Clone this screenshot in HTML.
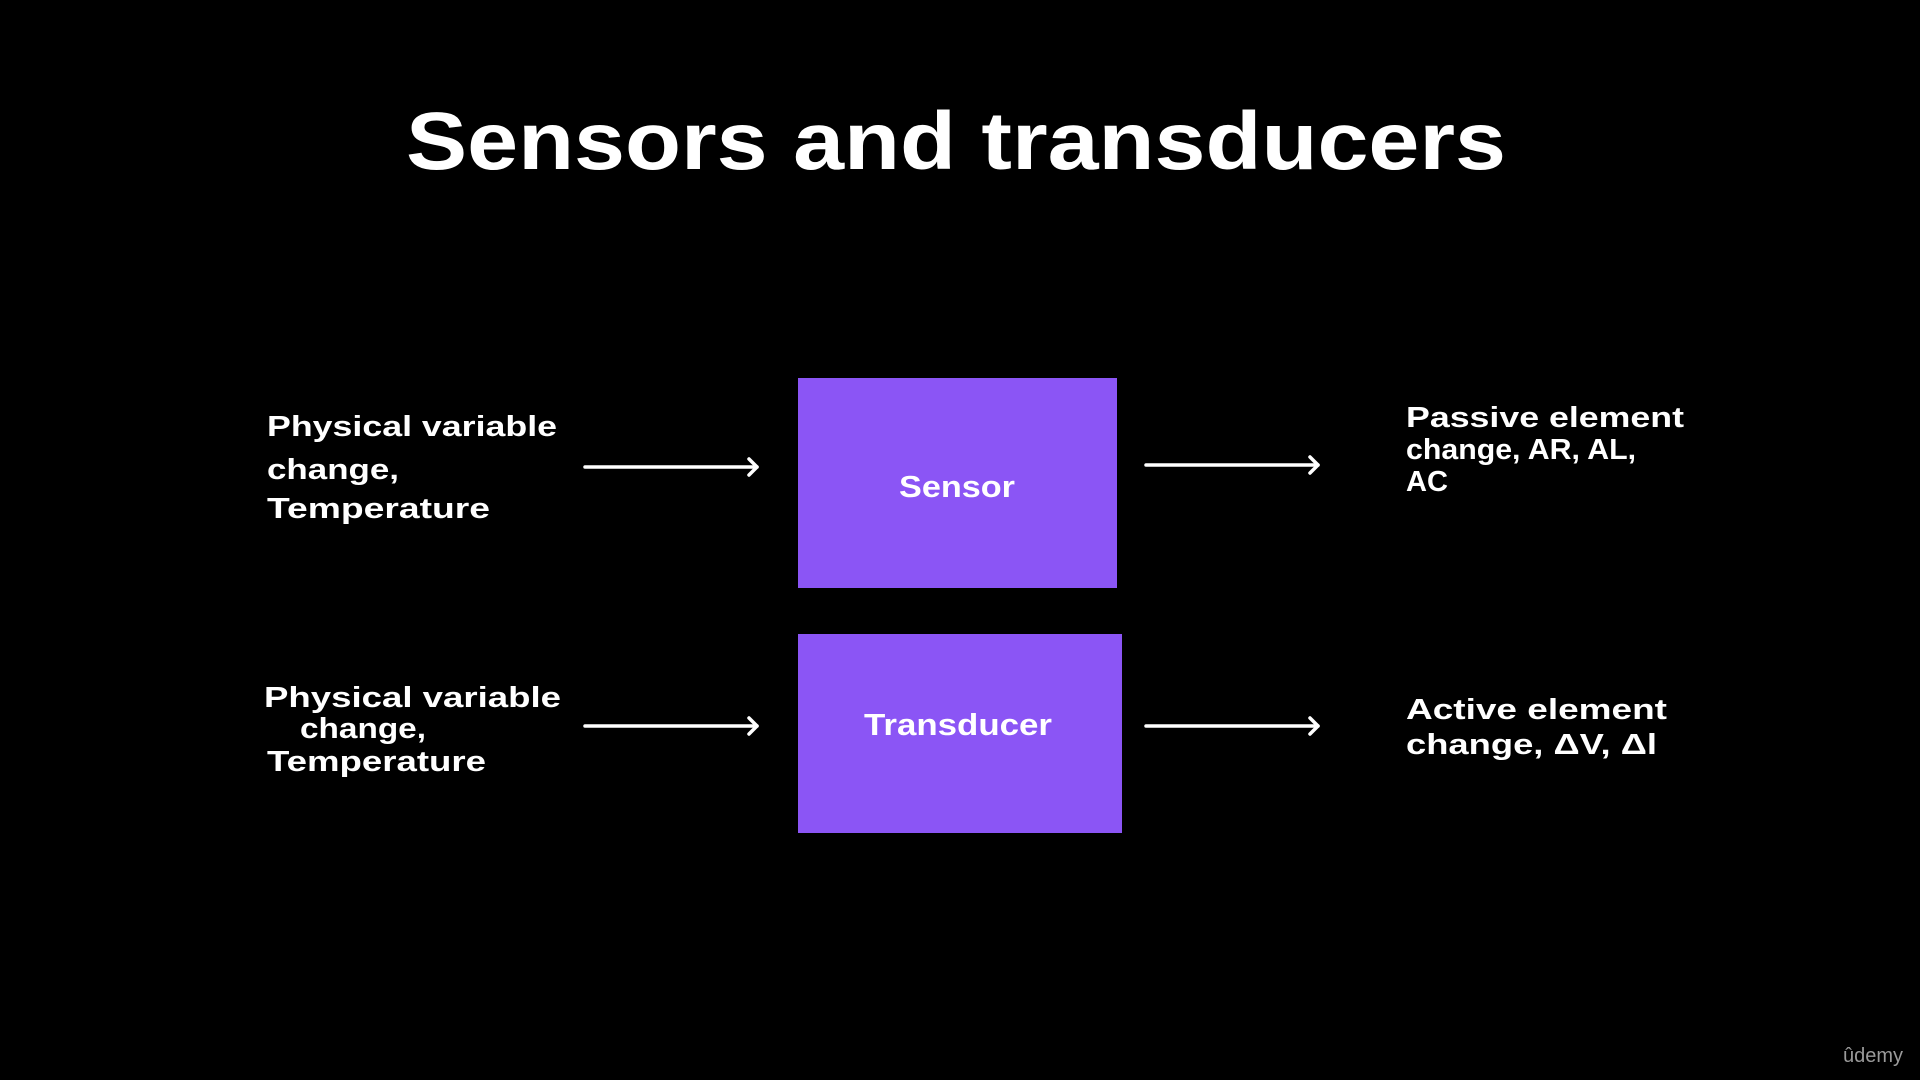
<!DOCTYPE html>
<html><head><meta charset="utf-8"><style>
html,body{margin:0;padding:0;background:#000;}
svg{display:block}
text{font-family:"Liberation Sans",sans-serif;font-weight:bold;fill:#fff}
</style></head><body>
<svg width="1920" height="1080" viewBox="0 0 1920 1080" xmlns="http://www.w3.org/2000/svg">
<rect width="1920" height="1080" fill="#000"/>
<text x="406" y="169" font-size="82" textLength="1100" lengthAdjust="spacingAndGlyphs">Sensors and transducers</text>

<rect x="798" y="378" width="319" height="210" fill="#8b55f5"/>
<rect x="798" y="634" width="324" height="199" fill="#8b55f5"/>
<text x="899" y="497" font-size="31" textLength="116" lengthAdjust="spacingAndGlyphs">Sensor</text>
<text x="864" y="735" font-size="31" textLength="188" lengthAdjust="spacingAndGlyphs">Transducer</text>

<g font-size="29">
<text x="267" y="436" textLength="290" lengthAdjust="spacingAndGlyphs">Physical variable</text>
<text x="267" y="479" textLength="132" lengthAdjust="spacingAndGlyphs">change,</text>
<text x="267" y="518" textLength="223" lengthAdjust="spacingAndGlyphs">Temperature</text>
<text x="264" y="707" textLength="297" lengthAdjust="spacingAndGlyphs">Physical variable</text>
<text x="300" y="738" textLength="126" lengthAdjust="spacingAndGlyphs">change,</text>
<text x="267" y="771" textLength="219" lengthAdjust="spacingAndGlyphs">Temperature</text>
<text x="1406" y="427" textLength="278" lengthAdjust="spacingAndGlyphs">Passive element</text>
<text x="1406" y="459" textLength="230" lengthAdjust="spacingAndGlyphs">change, AR, AL,</text>
<text x="1406" y="491" textLength="42" lengthAdjust="spacingAndGlyphs">AC</text>
<text x="1406" y="719" textLength="261" lengthAdjust="spacingAndGlyphs">Active element</text>
<text x="1406" y="754" textLength="251" lengthAdjust="spacingAndGlyphs">change,  ΔV,  Δl</text>
</g>

<g stroke="#fff" stroke-width="3.5" fill="none" stroke-linecap="round" stroke-linejoin="round">
<line x1="585" y1="467" x2="757" y2="467"/><polyline points="749,459 757,467 749,475"/>
<line x1="1146" y1="465" x2="1318" y2="465"/><polyline points="1310,457 1318,465 1310,473"/>
<line x1="585" y1="726" x2="757" y2="726"/><polyline points="749,718 757,726 749,734"/>
<line x1="1146" y1="726" x2="1318" y2="726"/><polyline points="1310,718 1318,726 1310,734"/>
</g>

<text x="1843" y="1062" font-size="20" font-weight="normal" style="font-weight:normal;fill:#9a9a9a">ûdemy</text>
</svg>
</body></html>
